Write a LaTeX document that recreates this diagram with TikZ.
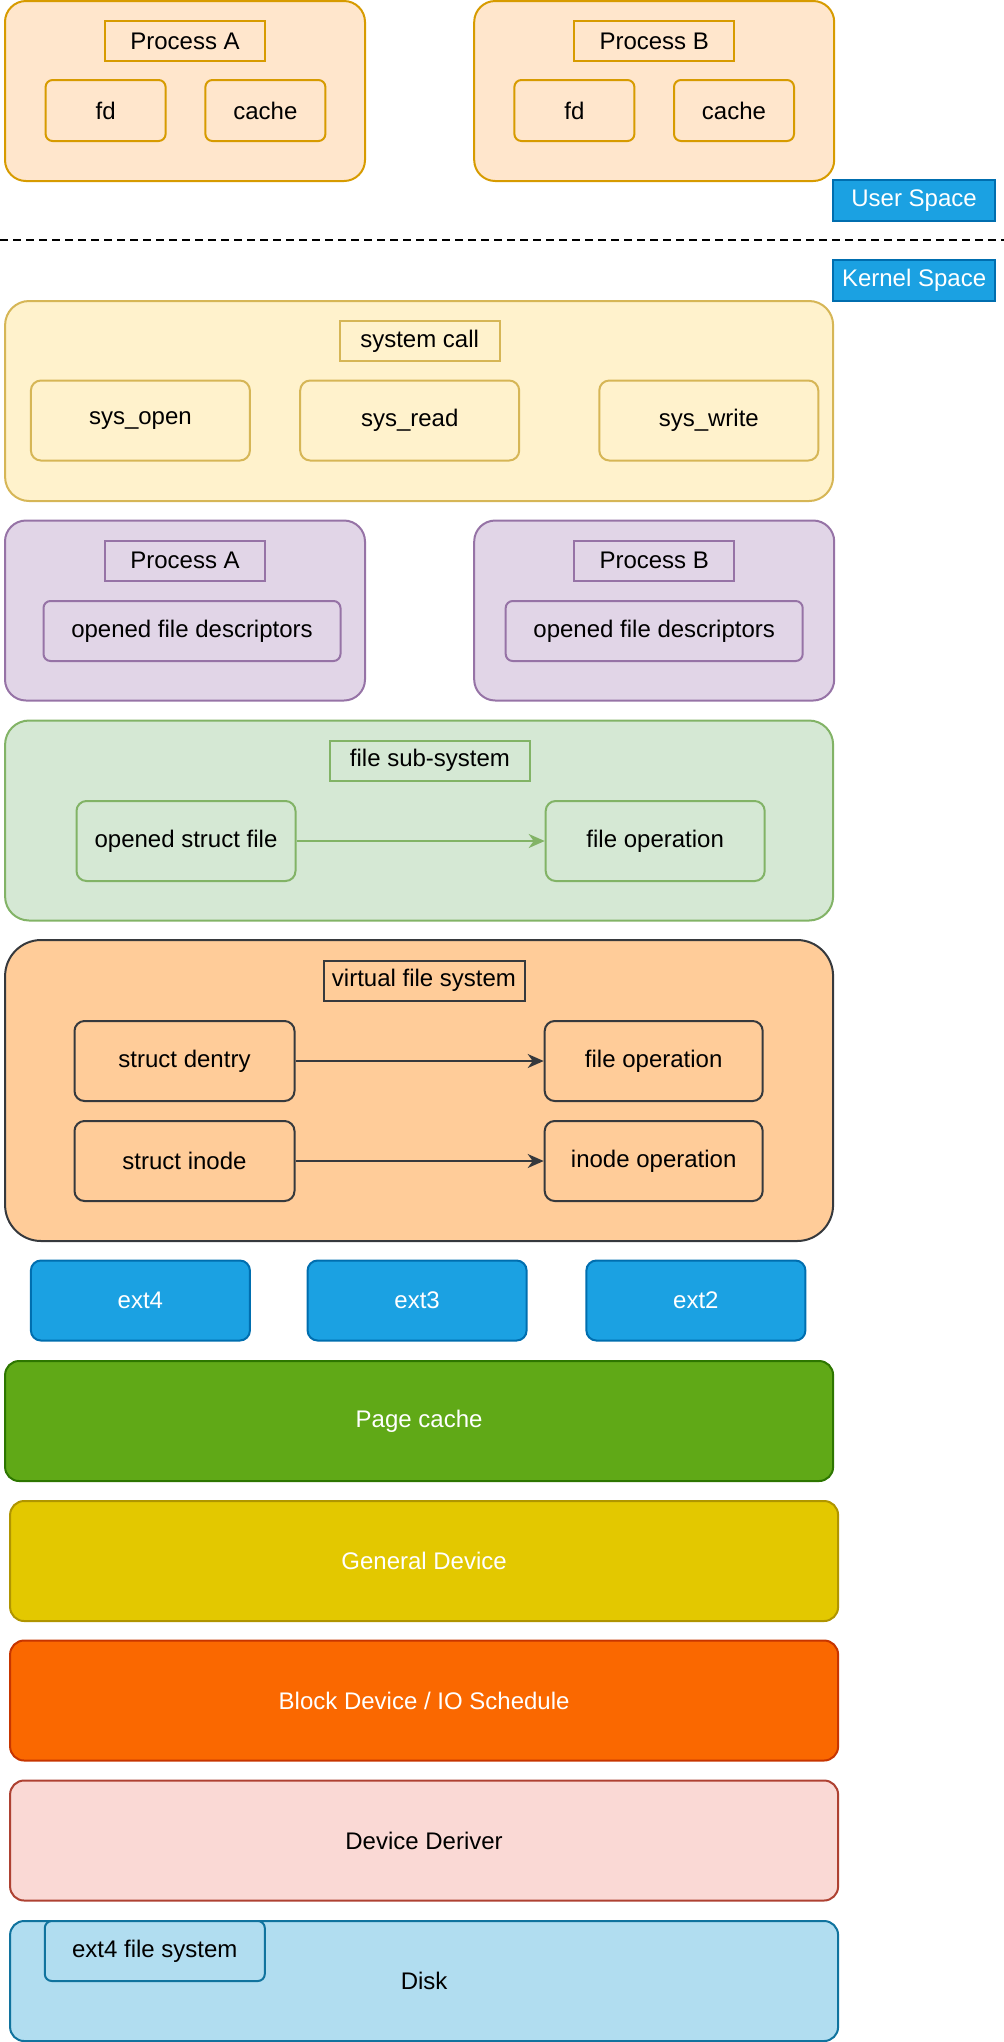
\documentclass[tikz,border=0pt]{standalone}
\usepackage{fontspec}
\setmainfont{Liberation Sans}
\usepackage{xcolor}
\usepackage{tikz}
\usetikzlibrary{arrows.meta, positioning}

\definecolor{userFill}{HTML}{FFE6CC}
\definecolor{userLine}{HTML}{D79B00}
\definecolor{callFill}{HTML}{FFF2CC}
\definecolor{callLine}{HTML}{D6B656}
\definecolor{fdtFill}{HTML}{E1D5E7}
\definecolor{fdtLine}{HTML}{9673A6}
\definecolor{subFill}{HTML}{D5E8D4}
\definecolor{subLine}{HTML}{82B366}
\definecolor{vfsFill}{HTML}{FFCC99}
\definecolor{vfsLine}{HTML}{36393D}
\definecolor{blueFill}{HTML}{1BA1E2}
\definecolor{blueLine}{HTML}{006EAF}
\definecolor{pageFill}{HTML}{60A917}
\definecolor{pageLine}{HTML}{2D7600}
\definecolor{genFill}{HTML}{E3C800}
\definecolor{genLine}{HTML}{B09500}
\definecolor{blockFill}{HTML}{FA6800}
\definecolor{blockLine}{HTML}{C73500}
\definecolor{drvFill}{HTML}{FAD9D5}
\definecolor{drvLine}{HTML}{AE4132}
\definecolor{diskFill}{HTML}{B1DDF0}
\definecolor{diskLine}{HTML}{10739E}

\begin{document}
\begin{tikzpicture}[x=0.5pt, y=-0.5pt,
    box/.style={rectangle, draw, line width=1pt, inner sep=0pt, align=center, font=\fontsize{12}{14}\selectfont},
    group/.style={box, rounded corners=10.5pt, minimum width=180pt, minimum height=90pt},
    layer/.style={box, rounded corners=12pt, minimum width=414pt, minimum height=100pt},
    band/.style={box, rounded corners=7pt, minimum width=414pt, minimum height=60pt},
    title/.style={box, minimum width=80pt, minimum height=20pt},
    item/.style={box, rounded corners=5pt, minimum width=109.5pt, minimum height=40pt},
    small/.style={box, rounded corners=3.5pt, minimum width=60pt, minimum height=30.5pt},
    tag/.style={box, fill=blueFill, draw=blueLine, text=white, minimum width=81pt, minimum height=20.5pt},
    link/.style={line width=1pt, -{Stealth[length=8pt, width=7pt, inset=2.5pt]}}
]
\useasboundingbox (0,0) rectangle (1004,2042);

% User space: two processes with their own fd and cache
\node[group, fill=userFill, draw=userLine] (userA) at (185,91) {};
\node[title, fill=userFill, draw=userLine] (userATitle) at (185,41) {Process A};
\node[small, fill=userFill, draw=userLine] (userAFd) at (105.6,110.5) {fd};
\node[small, fill=userFill, draw=userLine] (userACache) at (265.4,110.5) {cache};

\node[group, fill=userFill, draw=userLine] (userB) at (654.2,91) {};
\node[title, fill=userFill, draw=userLine] (userBTitle) at (654.2,41) {Process B};
\node[small, fill=userFill, draw=userLine] (userBFd) at (574.4,110.5) {fd};
\node[small, fill=userFill, draw=userLine] (userBCache) at (734,110.5) {cache};

% Space tags and the dividing line
\node[tag] (userSpace) at (914.1,200.5) {User Space};
\coordinate (divLeft) at (0,240);
\coordinate (divRight) at (1004,240);
\draw[line width=1pt, dash pattern=on 4pt off 2.5pt] (divLeft) -- (divRight);
\node[tag] (kernelSpace) at (914.1,280.5) {Kernel Space};

% System call layer
\node[layer, fill=callFill, draw=callLine] (sysCall) at (419.1,401) {};
\node[title, fill=callFill, draw=callLine] (sysCallTitle) at (419.6,341) {system call};
\node[item, fill=callFill, draw=callLine] (sysOpen) at (140.4,420.5) {sys\_open};
\node[item, fill=callFill, draw=callLine] (sysRead) at (409.7,420.5) {sys\_read};
\node[item, fill=callFill, draw=callLine] (sysWrite) at (708.8,420.5) {sys\_write};

% Per-process descriptor tables
\node[group, fill=fdtFill, draw=fdtLine] (fdtA) at (185,610.5) {};
\node[title, fill=fdtFill, draw=fdtLine] (fdtATitle) at (185,560.5) {Process A};
\node[box, rounded corners=3.5pt, minimum width=148.5pt, minimum height=30pt, fill=fdtFill, draw=fdtLine] (fdtAList) at (192,631) {opened file descriptors};

\node[group, fill=fdtFill, draw=fdtLine] (fdtB) at (654.2,610.5) {};
\node[title, fill=fdtFill, draw=fdtLine] (fdtBTitle) at (654.2,560.5) {Process B};
\node[box, rounded corners=3.5pt, minimum width=148.5pt, minimum height=30pt, fill=fdtFill, draw=fdtLine] (fdtBList) at (654.2,631) {opened file descriptors};

% File sub-system
\node[layer, fill=subFill, draw=subLine] (fileSub) at (419.1,820.5) {};
\node[title, minimum width=99.7pt, fill=subFill, draw=subLine] (fileSubTitle) at (430,760.5) {file sub-system};
\node[item, fill=subFill, draw=subLine] (structFile) at (186,841) {opened struct file};
\node[item, fill=subFill, draw=subLine] (fileOp) at (655.2,841) {file operation};
\draw[link, draw=subLine, fill=subLine] (structFile) -- (fileOp);

% Virtual file system
\node[layer, rounded corners=18pt, minimum height=150.5pt, fill=vfsFill, draw=vfsLine] (vfs) at (419.1,1090.5) {};
\node[title, minimum width=100.5pt, fill=vfsFill, draw=vfsLine] (vfsTitle) at (424,980.5) {virtual file system};
\node[item, minimum width=110pt, fill=vfsFill, draw=vfsLine] (dentry) at (184.5,1061) {struct dentry};
\node[item, minimum width=109pt, fill=vfsFill, draw=vfsLine] (dentryOp) at (653.7,1061) {file operation};
\node[item, minimum width=110pt, fill=vfsFill, draw=vfsLine] (inode) at (184.5,1161) {struct inode};
\node[item, minimum width=109pt, fill=vfsFill, draw=vfsLine] (inodeOp) at (653.7,1161) {inode operation};
\draw[link, draw=vfsLine, fill=vfsLine] (dentry) -- (dentryOp);
\draw[link, draw=vfsLine, fill=vfsLine] (inode) -- (inodeOp);

% Concrete file systems
\node[item, fill=blueFill, draw=blueLine, text=white] (ext4) at (140.4,1300.5) {ext4};
\node[item, fill=blueFill, draw=blueLine, text=white] (ext3) at (417.1,1300.5) {ext3};
\node[item, fill=blueFill, draw=blueLine, text=white] (ext2) at (695.9,1300.5) {ext2};

% Lower layers down to the disk
\node[band, fill=pageFill, draw=pageLine, text=white] (pageCache) at (419.1,1421) {Page cache};
\node[band, fill=genFill, draw=genLine, text=white] (generalDev) at (424.1,1561) {General Device};
\node[band, fill=blockFill, draw=blockLine, text=white] (blockDev) at (424.1,1700.5) {Block Device / IO Schedule};
\node[band, fill=drvFill, draw=drvLine] (devDriver) at (424.1,1840.5) {Device Deriver};
\node[band, fill=diskFill, draw=diskLine] (disk) at (424.1,1981) {Disk};
\node[box, rounded corners=3.5pt, minimum width=110pt, minimum height=30pt, fill=diskFill, draw=diskLine] (diskFs) at (154.8,1951) {ext4 file system};
\end{tikzpicture}
\end{document}
